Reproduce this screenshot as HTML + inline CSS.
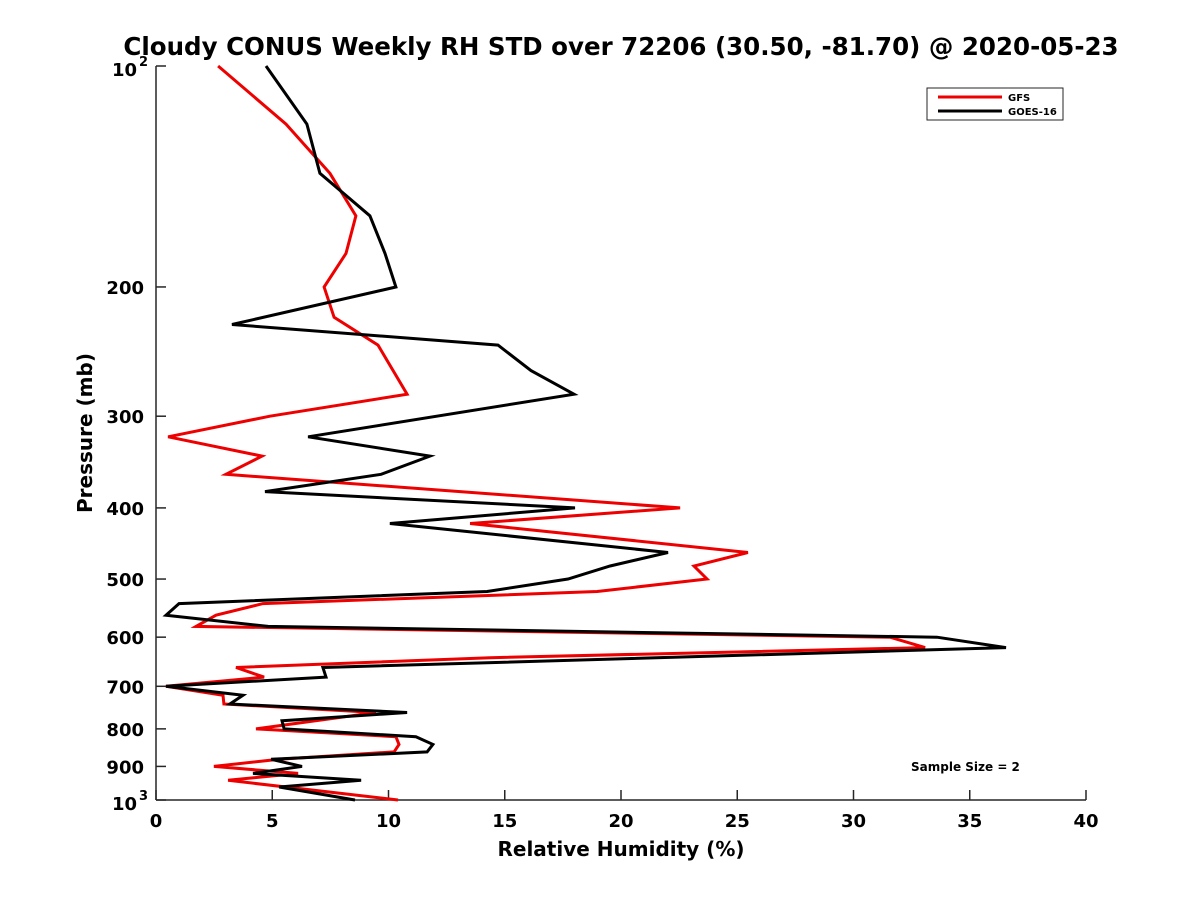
<!DOCTYPE html>
<html><head><meta charset="utf-8"><style>
html,body{margin:0;padding:0;background:#fff;}
svg text{font-family:"DejaVu Sans","Liberation Sans",sans-serif;font-weight:bold;fill:#000;}
</style></head><body>
<svg id="chart" width="1200" height="900" xmlns="http://www.w3.org/2000/svg">
<rect width="1200" height="900" fill="#fff"/>
<text x="621" y="55" font-size="24.5" text-anchor="middle">Cloudy CONUS Weekly RH STD over 72206 (30.50, -81.70) @ 2020-05-23</text>
<g id="axes"></g>
<g id="series"></g>
<text x="621" y="856" font-size="20" text-anchor="middle">Relative Humidity (%)</text>
<text transform="translate(92,433) rotate(-90)" font-size="20" text-anchor="middle">Pressure (mb)</text>
<g>
<rect x="927" y="88" width="136" height="32" fill="#fff" stroke="#262626" stroke-width="1"/>
<line x1="938" y1="97" x2="1002" y2="97" stroke="#e00" stroke-width="3"/>
<text x="1008" y="101" font-size="10">GFS</text>
<line x1="938" y1="111" x2="1002" y2="111" stroke="#000" stroke-width="3"/>
<text x="1008" y="115" font-size="10">GOES-16</text>
</g>
<text x="911" y="771" font-size="12">Sample Size = 2</text>
</svg>
<script>
const xTicks = [0,5,10,15,20,25,30,35,40];
const yTicks = [100,200,300,400,500,600,700,800,900,1000];
const yTickLabels = ["10^2","200","300","400","500","600","700","800","900","10^3"];
const gfsP = [100,120,140,160,180,200,220,240,280,300,320,340,360,400,420,460,480,500,520,540,560,580,600,620,640,660,680,700,720,740,760,800,820,840,860,880,900,920,940,1000];
const gfsRH = [2.67,5.59,7.48,8.60,8.17,7.23,7.66,9.55,10.80,4.9,0.52,4.56,3.01,22.54,13.51,25.46,23.14,23.70,18.97,4.60,2.58,1.72,31.57,33.08,14.37,3.44,4.65,0.43,2.88,2.92,9.46,4.30,10.32,10.45,10.24,5.29,2.49,6.11,3.10,10.41];
const goesP = [100,120,140,160,180,200,225,240,260,280,320,340,360,380,400,420,460,480,500,520,540,560,580,600,620,660,680,700,720,740,760,780,800,820,840,860,880,900,920,940,960,1000];
const goesRH = [4.73,6.49,7.05,9.20,9.85,10.32,3.27,14.71,16.13,17.98,6.54,11.78,9.68,4.69,18.02,10.06,22.02,19.53,17.72,14.24,0.99,0.43,4.82,33.59,36.56,7.18,7.31,0.43,3.74,3.18,10.80,5.42,5.51,11.18,11.91,11.66,4.95,6.28,4.17,8.82,5.3,8.56];

const X0=156,X1=1086,Y0=66,Y1=800;
function xs(v){return X0+(v-0)/(40-0)*(X1-X0);}
function ys(p){return Y0+(Math.log10(p)-2)*(Y1-Y0);}
const NS="http://www.w3.org/2000/svg";
const axes=document.getElementById('axes');
function mk(tag,attrs,parent){const e=document.createElementNS(NS,tag);for(const k in attrs)e.setAttribute(k,attrs[k]);parent.appendChild(e);return e;}
const la=mk('line',{x1:X0,y1:Y0,x2:X0,y2:Y1,stroke:'#262626','stroke-width':1.5},axes);


const ba=mk('line',{x1:X0,y1:Y1,x2:X1,y2:Y1,stroke:'#262626','stroke-width':1.5},axes);


xTicks.forEach(v=>{
  const x=xs(v);
  mk('line',{x1:x,y1:Y1,x2:x,y2:Y1-10,stroke:'#262626','stroke-width':1.5},axes);
  const t=mk('text',{x:x,y:Y1+27,'font-size':18,'text-anchor':'middle'},axes);
  t.textContent=v;
  
  
});
yTicks.forEach((p,i)=>{
  const y=ys(p);
  mk('line',{x1:X0,y1:y,x2:X0+10,y2:y,stroke:'#262626','stroke-width':1.5},axes);
  const lab=yTickLabels[i];
  if(lab.indexOf('^')>=0){
    const parts=lab.split('^');
    const t=mk('text',{x:X0-19,y:y+10,'font-size':18,'text-anchor':'end'},axes);
    t.textContent=parts[0];
    
    
    const s=mk('text',{x:X0-8,y:y,'font-size':13,'text-anchor':'end'},axes);
    s.textContent=parts[1];
    
    
  } else {
    const t=mk('text',{x:X0-12,y:y+7,'font-size':18,'text-anchor':'end'},axes);
    t.textContent=lab;
    
    
  }
});
const ser=document.getElementById('series');
function line(P,V,color,name){
  const pts=P.map((p,i)=>xs(V[i]).toFixed(1)+','+ys(p).toFixed(1)).join(' ');
  const pl=mk('polyline',{points:pts,fill:'none',stroke:color,'stroke-width':3,'stroke-linejoin':'miter'},ser);
  
  
}
line(gfsP,gfsRH,'#e00','gfs-line');
line(goesP,goesRH,'#000','goes16-line');
</script>
</body></html>
